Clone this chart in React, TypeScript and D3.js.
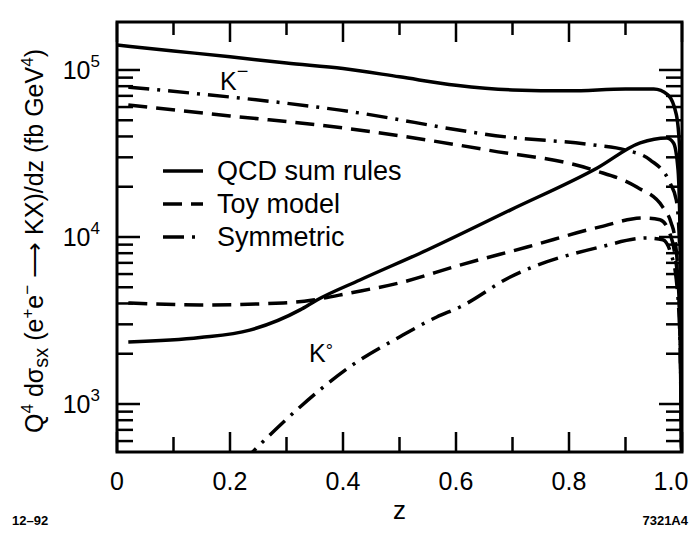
import React, { useEffect, useRef } from 'react';
import * as d3 from 'd3';

// values, fb GeV^4
const kmQcdZ = [0, 0.1, 0.2, 0.3, 0.4, 0.5, 0.6, 0.7, 0.8, 0.9, 0.95, 0.975, 0.99, 0.996, 1.0];
const kmQcd = [141000, 130000, 120000, 110000, 102000, 91000, 81000, 76000, 75000, 77000, 77000, 71000, 54000, 33000, 300];

const kmToyZ = [0.02, 0.2, 0.4, 0.655, 0.843, 0.92, 0.966, 0.981, 0.987, 0.995, 1.0];
const kmToy = [61700, 53100, 45000, 33200, 25200, 19900, 15100, 12100, 10000, 4200, 300];

const kmSymZ = [0.02, 0.395, 0.69, 0.843, 0.9, 0.944, 0.979, 0.99, 0.996, 1.0];
const kmSym = [79000, 57500, 39700, 35600, 33200, 28900, 21000, 16600, 8360, 300];

const k0QcdZ = [0.02, 0.147, 0.235, 0.324, 0.354, 0.43, 0.549, 0.696, 0.85, 0.926, 0.973, 0.985, 0.993, 0.997, 1.0];
const k0Qcd = [2350, 2500, 2770, 3660, 4200, 5530, 8360, 14500, 25900, 36600, 39200, 36600, 25200, 8360, 300];

const k0ToyZ = [0.02, 0.147, 0.294, 0.347, 0.412, 0.5, 0.607, 0.726, 0.855, 0.931, 0.961, 0.978, 0.987, 0.995, 1.0];
const k0Toy = [4030, 3920, 4030, 4200, 4620, 5310, 6790, 8710, 11500, 13000, 12700, 10600, 8020, 4200, 300];

const k0SymZ = [0.22, 0.241, 0.324, 0.412, 0.5, 0.566, 0.607, 0.696, 0.855, 0.938, 0.966, 0.98, 0.99, 0.997, 1.0];
const k0Sym = [440, 520, 960, 1670, 2520, 3320, 3810, 5760, 8710, 9860, 9620, 8020, 5530, 2100, 300];

const xMajor = [0, 0.2, 0.4, 0.6, 0.8, 1.0];
const xMajorLabels = ['0', '0.2', '0.4', '0.6', '0.8', '1.0'];
const xMinor = [0.1, 0.3, 0.5, 0.7, 0.9];
const yDecades = [1e3, 1e4, 1e5];
const yDecadeExp = ['3', '4', '5'];

const legendNames = ['QCD sum rules', 'Toy model', 'Symmetric'];

const DASHED = '19,9';
const DASHDOT = '21,8,3,8';

const App = () => {
  const ref = useRef<SVGSVGElement | null>(null);

  useEffect(() => {
    const svg = d3.select(ref.current);
    svg.selectAll('*').remove();

    const left = 117, right = 682, top = 22, bottom = 452;
    const x = d3.scaleLinear().domain([0, 1]).range([left, right]);
    const y = d3.scaleLog().domain([516, 193800]).range([bottom, top]);
    const font = 'Liberation Sans, Arial, Helvetica, sans-serif';

    svg.append('defs').append('clipPath').attr('id', 'plotclip')
      .append('rect').attr('x', left).attr('y', top)
      .attr('width', right - left).attr('height', bottom - top);

    const line = d3.line<[number, number]>()
      .x(d => x(d[0]))
      .y(d => y(d[1]))
      .curve(d3.curveMonotoneX);

    const series: [number[], number[], string | null][] = [
      [kmQcdZ, kmQcd, null],
      [kmToyZ, kmToy, DASHED],
      [kmSymZ, kmSym, DASHDOT],
      [k0QcdZ, k0Qcd, null],
      [k0ToyZ, k0Toy, DASHED],
      [k0SymZ, k0Sym, DASHDOT],
    ];

    const curves = svg.append('g').attr('clip-path', 'url(#plotclip)');
    series.forEach(([zs, vs, dash]) => {
      curves.append('path')
        .datum(zs.map((z, i) => [z, vs[i]] as [number, number]))
        .attr('fill', 'none')
        .attr('stroke', 'black')
        .attr('stroke-width', 3.5)
        .attr('stroke-dasharray', dash)
        .attr('d', line);
    });

    // ticks, all pointing inward
    const ticks = svg.append('g').attr('stroke', 'black').attr('stroke-width', 2.5);
    xMajor.forEach(v => {
      ticks.append('line').attr('x1', x(v)).attr('x2', x(v)).attr('y1', bottom).attr('y2', bottom - 20);
      ticks.append('line').attr('x1', x(v)).attr('x2', x(v)).attr('y1', top).attr('y2', top + 20);
    });
    xMinor.forEach(v => {
      ticks.append('line').attr('x1', x(v)).attr('x2', x(v)).attr('y1', bottom).attr('y2', bottom - 15);
      ticks.append('line').attr('x1', x(v)).attr('x2', x(v)).attr('y1', top).attr('y2', top + 13);
    });
    y.ticks().filter(v => v >= 516 && v <= 193800).forEach(v => {
      const isDecade = Math.abs(Math.log10(v) - Math.round(Math.log10(v))) < 1e-6;
      const len = isDecade ? 23 : 16;
      ticks.append('line').attr('x1', left).attr('x2', left + len).attr('y1', y(v)).attr('y2', y(v));
      ticks.append('line').attr('x1', right).attr('x2', right - len).attr('y1', y(v)).attr('y2', y(v));
    });

    svg.append('rect')
      .attr('x', left).attr('y', top)
      .attr('width', right - left).attr('height', bottom - top)
      .attr('fill', 'none').attr('stroke', 'black').attr('stroke-width', 3);

    // tick labels (last one pulled in so it stays on the page)
    xMajor.forEach((v, i) => {
      svg.append('text')
        .attr('x', Math.min(x(v), 671)).attr('y', 490)
        .attr('text-anchor', 'middle')
        .attr('font-family', font).attr('font-size', 25)
        .text(xMajorLabels[i]);
    });
    yDecades.forEach((v, i) => {
      const t = svg.append('text')
        .attr('x', 100).attr('y', y(v) + 9)
        .attr('text-anchor', 'end')
        .attr('font-family', font).attr('font-size', 25);
      t.append('tspan').text('10');
      t.append('tspan').attr('dy', -12).attr('font-size', 17).text(yDecadeExp[i]);
    });

    // axis titles
    svg.append('text')
      .attr('x', x(0.5)).attr('y', 519)
      .attr('text-anchor', 'middle')
      .attr('font-family', font).attr('font-size', 26)
      .text('z');

    const yt = svg.append('text')
      .attr('transform', 'translate(43,241) rotate(-90)')
      .attr('text-anchor', 'middle')
      .attr('font-family', font).attr('font-size', 25);
    yt.append('tspan').text('Q');
    yt.append('tspan').attr('dy', -10).attr('font-size', 17).text('4');
    yt.append('tspan').attr('dy', 10).text(' dσ');
    yt.append('tspan').attr('dy', 5).attr('font-size', 20).text('sx');
    yt.append('tspan').attr('dy', -5).text(' (e');
    yt.append('tspan').attr('dy', -10).attr('font-size', 17).text('+');
    yt.append('tspan').attr('dy', 10).text('e');
    yt.append('tspan').attr('dy', -10).attr('font-size', 17).text('−');
    yt.append('tspan').attr('dy', 10).text(' ⟶ KX)/dz   (fb GeV');
    yt.append('tspan').attr('dy', -10).attr('font-size', 17).text('4');
    yt.append('tspan').attr('dy', 10).text(')');

    // curve labels
    const km = svg.append('text').attr('x', 220).attr('y', 90)
      .attr('font-family', font).attr('font-size', 25);
    km.append('tspan').text('K');
    km.append('tspan').attr('dy', -12).attr('font-size', 20).text('−');

    const k0 = svg.append('text').attr('x', 309).attr('y', 362)
      .attr('font-family', font).attr('font-size', 25);
    k0.append('tspan').text('K');
    k0.append('tspan').attr('dy', -5).attr('font-size', 18).text('°');

    // legend
    const dashes = [null, DASHED, DASHDOT];
    legendNames.forEach((name, i) => {
      const ly = 171 + i * 33;
      svg.append('line')
        .attr('x1', 163).attr('x2', 203).attr('y1', ly).attr('y2', ly)
        .attr('stroke', 'black').attr('stroke-width', 3.5)
        .attr('stroke-dasharray', dashes[i]);
      svg.append('text')
        .attr('x', 217).attr('y', ly + 9)
        .attr('font-family', font).attr('font-size', 27)
        .text(name);
    });

    // figure codes
    svg.append('text').attr('x', 12).attr('y', 525)
      .attr('font-family', font).attr('font-size', 13).attr('font-weight', 'bold')
      .text('12–92');
    svg.append('text').attr('x', 688).attr('y', 525).attr('text-anchor', 'end')
      .attr('font-family', font).attr('font-size', 13).attr('font-weight', 'bold')
      .text('7321A4');
  }, []);

  return (
    <svg
      ref={ref}
      width={696}
      height={533}
      style={{ position: 'absolute', left: 0, top: 0, background: 'white' }}
    />
  );
};

export default App;
